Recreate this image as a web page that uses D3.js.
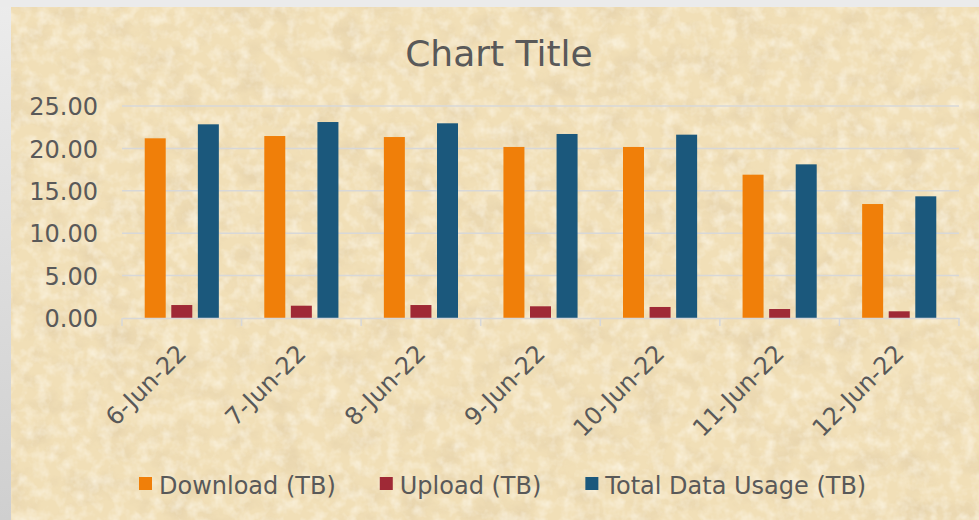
<!DOCTYPE html>
<html>
<head>
<meta charset="utf-8">
<script src="https://cdn.jsdelivr.net/npm/d3@7"></script>
<style>
  html, body { margin: 0; padding: 0; }
  body { width: 979px; height: 520px; overflow: hidden; background: #e6e6e6; }
  svg { display: block; }
  text { font-family: "DejaVu Sans", Verdana, sans-serif; fill: #595959; }
</style>
</head>
<body>
<svg id="chart" width="979" height="520"></svg>
<script>
// ---- data ----
const categories = ["6-Jun-22", "7-Jun-22", "8-Jun-22", "9-Jun-22", "10-Jun-22", "11-Jun-22", "12-Jun-22"];
const seriesNames = ["Download (TB)", "Upload (TB)", "Total Data Usage (TB)"];
const download = [21.19, 21.46, 21.34, 20.17, 20.17, 16.90, 13.44];
const upload   = [1.53, 1.45, 1.53, 1.38, 1.30, 1.06, 0.79];
const total    = [22.84, 23.11, 22.96, 21.70, 21.62, 18.12, 14.35];
const yTicks = [0, 5, 10, 15, 20, 25];
const titleText = "Chart Title";

const seriesValues = [download, upload, total];
const colors = ["#f07f09", "#9f2936", "#1b587c"];

const svg = d3.select("#chart");
const W = 979, H = 520;

// ---- defs: background gradient + parchment texture ----
const defs = svg.append("defs");
const lg = defs.append("linearGradient").attr("id", "outerGrad")
  .attr("x1", 0).attr("y1", 0).attr("x2", 0).attr("y2", 1);
lg.append("stop").attr("offset", "0%").attr("stop-color", "#ececec");
lg.append("stop").attr("offset", "100%").attr("stop-color", "#cfcfcf");

const f = defs.append("filter").attr("id", "paper")
  .attr("x", 0).attr("y", 0).attr("width", "100%").attr("height", "100%");
f.append("feTurbulence").attr("type", "fractalNoise")
  .attr("baseFrequency", "0.03 0.04").attr("numOctaves", 5).attr("seed", 7).attr("result", "noise");
f.append("feColorMatrix").attr("in", "noise").attr("type", "matrix")
  .attr("values", "0 0 0 0 0.74  0 0 0 0 0.60  0 0 0 0 0.38  1.3 0 0 0 -0.58")
  .attr("result", "dark");
f.append("feComposite").attr("in", "dark").attr("in2", "SourceGraphic").attr("operator", "in");

const f2 = defs.append("filter").attr("id", "paper2")
  .attr("x", 0).attr("y", 0).attr("width", "100%").attr("height", "100%");
f2.append("feTurbulence").attr("type", "fractalNoise")
  .attr("baseFrequency", "0.08").attr("numOctaves", 3).attr("seed", 3).attr("result", "noise");
f2.append("feColorMatrix").attr("in", "noise").attr("type", "matrix")
  .attr("values", "0 0 0 0 1  0 0 0 0 0.97  0 0 0 0 0.88  1.2 0 0 0 -0.5")
  .attr("result", "light");
f2.append("feComposite").attr("in", "light").attr("in2", "SourceGraphic").attr("operator", "in");

// outer grey frame
svg.append("rect").attr("x", 0).attr("y", 0).attr("width", W).attr("height", H).attr("fill", "url(#outerGrad)");
svg.append("rect").attr("x", 0).attr("y", 0).attr("width", W).attr("height", 7).attr("fill", "#ebebeb");

// chart area
const cx0 = 11, cy0 = 7;
svg.append("rect").attr("x", cx0).attr("y", cy0).attr("width", W - cx0).attr("height", H - cy0).attr("fill", "#f1dfb7");
svg.append("rect").attr("x", cx0).attr("y", cy0).attr("width", W - cx0).attr("height", H - cy0)
  .attr("fill", "#000").attr("filter", "url(#paper)");
svg.append("rect").attr("x", cx0).attr("y", cy0).attr("width", W - cx0).attr("height", H - cy0)
  .attr("fill", "#000").attr("filter", "url(#paper2)");

// ---- scales ----
const plot = { left: 122, right: 959, top: 106, bottom: 318 };
const x0 = d3.scaleBand().domain(categories).range([plot.left, plot.right]).paddingInner(0).paddingOuter(0);
const bw = x0.bandwidth();
const x1 = d3.scaleBand().domain(d3.range(seriesNames.length))
  .range([bw * 0.19, bw * 0.81]).paddingInner(0.21).paddingOuter(0);
const y = d3.scaleLinear().domain([0, 25]).range([plot.bottom, plot.top]);

// gridlines
svg.append("g").selectAll("line").data(yTicks.filter(d => d > 0)).join("line")
  .attr("x1", plot.left).attr("x2", plot.right)
  .attr("y1", d => y(d)).attr("y2", d => y(d))
  .attr("stroke", "#d8d8d8").attr("stroke-width", 1.5);

// bars
const groups = svg.append("g").selectAll("g").data(categories).join("g")
  .attr("transform", d => `translate(${x0(d)},0)`);
groups.selectAll("rect").data((d, i) => seriesValues.map((vals, s) => ({ s, v: vals[i] }))).join("rect")
  .attr("x", d => x1(d.s))
  .attr("width", x1.bandwidth())
  .attr("y", d => y(d.v))
  .attr("height", d => y(0) - y(d.v))
  .attr("fill", d => colors[d.s]);

// x axis line + ticks
const xAxis = d3.axisBottom(x0).tickSize(0).tickFormat("");
const xg = svg.append("g").attr("transform", `translate(0,${plot.bottom})`).call(xAxis);
xg.select(".domain").attr("stroke", "#d8d8d8").attr("stroke-width", 1.5);
const boundaries = categories.map(c => x0(c)).concat([plot.right]);
xg.selectAll(".bnd").data(boundaries).join("line").attr("class", "bnd")
  .attr("x1", d => d).attr("x2", d => d).attr("y1", 0).attr("y2", 8)
  .attr("stroke", "#d8d8d8").attr("stroke-width", 1.5);

// x labels rotated
svg.append("g").selectAll("text").data(categories).join("text")
  .attr("transform", d => `translate(${x0(d) + bw / 2 + 6},355) rotate(-45)`)
  .attr("text-anchor", "end")
  .attr("font-size", 24)
  .text(d => d);

// y axis labels
const yAxis = d3.axisLeft(y).tickValues(yTicks).tickFormat(d3.format(".2f")).tickSize(0).tickPadding(0);
const yg = svg.append("g").attr("transform", `translate(98,0)`).call(yAxis);
yg.select(".domain").remove();
yg.attr("font-family", null);
yg.selectAll("text").attr("font-size", 24).attr("fill", "#595959").attr("dy", "0.36em");

// title
svg.append("text").attr("x", 499).attr("y", 66).attr("text-anchor", "middle")
  .attr("font-size", 36).text(titleText);

// legend
const legend = svg.append("g");
let lx = 139;
seriesNames.forEach((name, i) => {
  legend.append("rect").attr("x", lx).attr("y", 477).attr("width", 13).attr("height", 13).attr("fill", colors[i]);
  const t = legend.append("text").attr("x", lx + 20).attr("y", 494).attr("font-size", 24).text(name);
  const w = t.node().getComputedTextLength();
  lx = lx + 20 + w + 44;
});
</script>
</body>
</html>
